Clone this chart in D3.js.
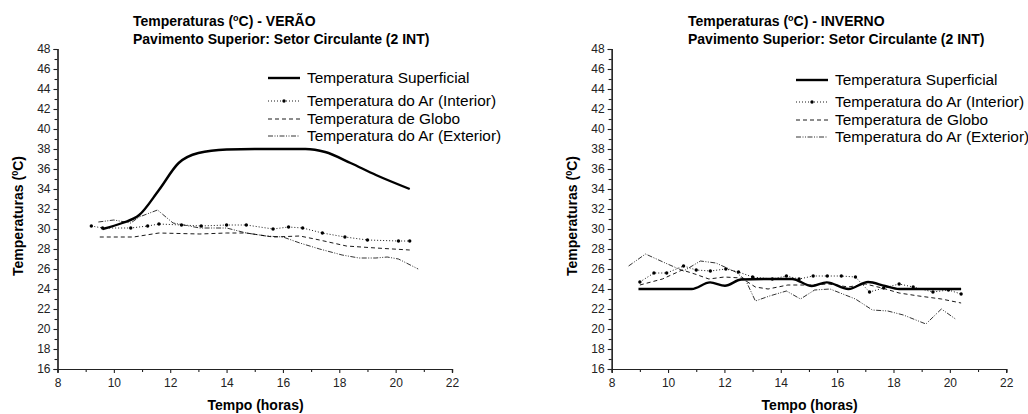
<!DOCTYPE html>
<html>
<head>
<meta charset="utf-8">
<script src="https://cdn.jsdelivr.net/npm/d3@7"></script>
<style>
  body { margin: 0; background: #fff; }
  svg { font-family: "Liberation Sans", Arial, sans-serif; }
</style>
</head>
<body>
<div id="chart"></div>
<script>
// ---- data ----
const xTicks = [8, 10, 12, 14, 16, 18, 20, 22];
const yTicks = [16, 18, 20, 22, 24, 26, 28, 30, 32, 34, 36, 38, 40, 42, 44, 46, 48];
const seriesNames = ['Temperatura Superficial', 'Temperatura do Ar (Interior)', 'Temperatura de Globo', 'Temperatura do Ar (Exterior)'];

// VERÃO
const verSupHoras = [9.6, 10.3, 10.9, 11.6, 12.3, 13.0, 14.0, 15.0, 16.0, 16.8, 17.5, 18.4, 19.3, 20.5];
const verSupTemp  = [30.0, 30.6, 31.4, 33.9, 36.6, 37.6, 37.95, 38.0, 38.0, 38.0, 37.7, 36.6, 35.4, 34.0];
const verIntHoras = [9.2, 9.6, 10.6, 11.2, 11.6, 12.4, 13.1, 14.0, 14.7, 15.65, 16.2, 16.7, 17.4, 18.2, 19.0, 20.1, 20.5];
const verIntTemp  = [30.3, 30.1, 30.1, 30.3, 30.5, 30.4, 30.3, 30.4, 30.4, 30.0, 30.2, 30.1, 29.6, 29.2, 28.9, 28.8, 28.8];
const verGloHoras = [9.5, 10.7, 11.6, 13.05, 14.0, 14.7, 15.65, 16.6, 17.3, 18.25, 19.3, 20.5];
const verGloTemp  = [29.2, 29.2, 29.6, 29.5, 29.6, 29.6, 29.2, 29.3, 28.9, 28.3, 28.1, 27.9];
const verExtHoras = [9.45, 10.0, 10.6, 10.9, 11.55, 12.1, 13.05, 14.0, 14.7, 15.4, 16.0, 16.6, 17.3, 18.1, 18.7, 19.3, 19.7, 20.1, 20.8];
const verExtTemp  = [30.7, 30.9, 30.6, 31.2, 31.9, 30.6, 30.1, 30.1, 29.6, 29.3, 29.2, 28.6, 28.0, 27.4, 27.1, 27.1, 27.2, 27.0, 26.0];

// INVERNO
const invSupHoras = [8.95, 10.0, 10.84, 11.49, 12.02, 12.6, 13.5, 14.4, 15.1, 15.63, 16.4, 17.1, 17.7, 18.2, 19.3, 20.4];
const invSupTemp  = [24.0, 24.0, 24.0, 24.66, 24.33, 24.95, 25.0, 25.0, 24.3, 24.66, 24.0, 24.7, 24.3, 24.0, 24.0, 24.0];
const invIntHoras = [9.0, 9.5, 9.95, 10.55, 11.0, 11.5, 12.05, 12.5, 13.0, 13.7, 14.2, 14.65, 15.15, 15.65, 16.15, 16.65, 17.15, 17.65, 18.2, 18.7, 19.4, 19.95, 20.4];
const invIntTemp  = [24.7, 25.6, 25.6, 26.3, 25.9, 25.8, 26.0, 25.7, 25.2, 25.0, 25.3, 25.0, 25.3, 25.3, 25.3, 25.2, 23.7, 24.1, 24.5, 24.2, 23.7, 23.9, 23.5];
const invGloHoras = [9.0, 9.8, 10.5, 10.95, 11.45, 12.0, 12.6, 13.1, 13.55, 14.25, 15.0, 15.7, 16.4, 17.0, 17.6, 18.2, 18.9, 19.7, 20.4];
const invGloTemp  = [24.4, 25.0, 25.9, 25.5, 25.0, 25.2, 25.1, 24.2, 24.0, 24.4, 24.4, 24.5, 24.2, 24.5, 24.1, 23.6, 23.3, 23.0, 22.6];
const invExtHoras = [8.6, 9.2, 9.9, 10.55, 11.15, 11.7, 12.4, 12.75, 13.1, 13.6, 14.2, 14.7, 15.2, 15.75, 16.65, 17.25, 17.8, 18.35, 19.15, 19.7, 20.2];
const invExtTemp  = [26.3, 27.5, 26.6, 25.8, 26.8, 26.6, 25.7, 24.9, 22.8, 23.3, 23.8, 23.0, 23.9, 24.0, 23.0, 21.9, 21.8, 21.4, 20.5, 22.0, 21.0];

const svg = d3.select('#chart').append('svg')
  .attr('width', 1028)
  .attr('height', 414);

// line styles per series (same order as seriesNames)
const styles = [
  { width: 2.4, dash: null, curve: d3.curveMonotoneX, markers: false },
  { width: 0.9, dash: '1,2', curve: d3.curveLinear, markers: true },
  { width: 0.9, dash: '4,3', curve: d3.curveLinear, markers: false },
  { width: 0.8, dash: '5,1.5,1,1.5,1,1.5', curve: d3.curveLinear, markers: false }
];

function drawPanel(p) {
  const g = svg.append('g');
  const x = d3.scaleLinear().domain([8, 22]).range([p.left, p.left + 394.5]);
  const y = d3.scaleLinear().domain([16, 48]).range([369, 49]);

  // axes
  const xAxis = d3.axisBottom(x).tickValues(xTicks).tickSize(4).tickFormat(d3.format('d'));
  const xMinor = d3.axisBottom(x).tickValues(d3.range(9, 22, 2)).tickSize(3).tickFormat('');
  const yAxis = d3.axisLeft(y).tickValues(yTicks).tickSize(4).tickFormat(d3.format('d'));
  const yMinor = d3.axisLeft(y).tickValues(d3.range(17, 48, 2)).tickSize(3).tickFormat('');

  [[xAxis, 'x'], [xMinor, 'x'], [yAxis, 'y'], [yMinor, 'y']].forEach(([ax, k]) => {
    const a = g.append('g')
      .attr('transform', k === 'x' ? 'translate(0,369)' : `translate(${p.left},0)`)
      .call(ax);
    a.select('.domain').attr('stroke', '#222').attr('stroke-width', 1.2);
    a.selectAll('.tick line').attr('stroke', '#222').attr('stroke-width', 1.1);
    a.selectAll('.tick text').attr('fill', '#222').style('font-size', '12px');
    if (k === 'x') a.selectAll('.tick text').attr('dy', '0.95em');
  });

  // axis titles
  g.append('text')
    .attr('x', p.left + 198).attr('y', 410)
    .attr('text-anchor', 'middle')
    .style('font-size', '14px').style('font-weight', 'bold')
    .text('Tempo (horas)');

  const yl = g.append('text')
    .attr('transform', `translate(${p.left - 35},216) rotate(-90)`)
    .attr('text-anchor', 'middle')
    .style('font-size', '14px').style('font-weight', 'bold');
  yl.append('tspan').text('Temperaturas (');
  yl.append('tspan').attr('baseline-shift', 'super').style('font-size', '9px').text('0');
  yl.append('tspan').text('C)');

  // title
  const t1 = g.append('text')
    .attr('x', p.titleX).attr('y', 26)
    .style('font-size', '14px').style('font-weight', 'bold');
  t1.append('tspan').text('Temperaturas (');
  t1.append('tspan').attr('baseline-shift', 'super').style('font-size', '9px').text('o');
  t1.append('tspan').text('C) - ' + p.season);
  g.append('text')
    .attr('x', p.titleX).attr('y', 44)
    .style('font-size', '14px').style('font-weight', 'bold')
    .text('Pavimento Superior: Setor Circulante (2 INT)');

  // series
  p.series.forEach((s, i) => {
    const st = styles[i];
    const pts = s.h.map((h, j) => [h, s.t[j]]);
    const line = d3.line().x(d => x(d[0])).y(d => y(d[1])).curve(st.curve);
    g.append('path')
      .datum(pts)
      .attr('d', line)
      .attr('fill', 'none')
      .attr('stroke', '#000')
      .attr('stroke-width', st.width)
      .attr('stroke-dasharray', st.dash);
    if (st.markers) {
      g.selectAll(null).data(pts).enter().append('circle')
        .attr('cx', d => x(d[0])).attr('cy', d => y(d[1]))
        .attr('r', 1.7).attr('fill', '#000');
    }
  });

  // legend
  const lg = g.append('g');
  p.legendY.forEach((ly, i) => {
    const st = styles[i];
    lg.append('line')
      .attr('x1', p.legendX).attr('x2', p.legendX + 32)
      .attr('y1', ly).attr('y2', ly)
      .attr('stroke', '#000')
      .attr('stroke-width', st.width)
      .attr('stroke-dasharray', st.dash);
    if (st.markers) {
      lg.append('circle').attr('cx', p.legendX + 16).attr('cy', ly).attr('r', 1.7).attr('fill', '#000');
    }
    lg.append('text')
      .attr('x', p.legendX + 39).attr('y', ly + 5.3)
      .style('font-size', '15.4px')
      .text(seriesNames[i]);
  });
}

drawPanel({
  left: 57.5, titleX: 133, season: 'VERÃO',
  legendX: 268, legendY: [78, 101, 119, 136],
  series: [
    { h: verSupHoras, t: verSupTemp },
    { h: verIntHoras, t: verIntTemp },
    { h: verGloHoras, t: verGloTemp },
    { h: verExtHoras, t: verExtTemp }
  ]
});

drawPanel({
  left: 611.7, titleX: 688, season: 'INVERNO',
  legendX: 796, legendY: [80, 102, 120, 137],
  series: [
    { h: invSupHoras, t: invSupTemp },
    { h: invIntHoras, t: invIntTemp },
    { h: invGloHoras, t: invGloTemp },
    { h: invExtHoras, t: invExtTemp }
  ]
});
</script>
</body>
</html>
